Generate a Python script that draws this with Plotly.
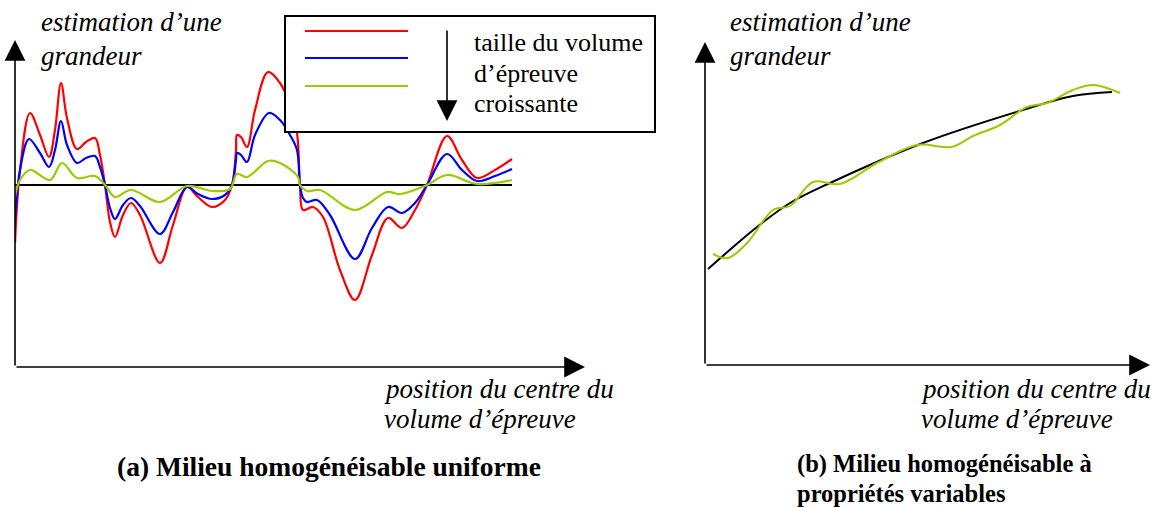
import plotly.graph_objects as go

W, H = 1156, 507

# ---------------- data ----------------
# panel (a): position along specimen, estimated quantity (0 = homogenised value)
red_x = [0, 5, 15, 25, 34, 40, 46, 52, 62, 71, 80, 85, 90, 95, 100, 108, 116, 125, 145, 158,
         172, 183, 197, 210, 217, 221, 222, 226, 232, 240, 253, 265, 275, 282, 285, 288, 298,
         308, 325, 340, 357, 373, 387, 400, 412, 432, 447, 462, 480, 497]
red_y = [-58, 15, 72, 50, 28, 55, 102, 67, 36, 43, 47, 30, 0, -37, -52, -30, -18, -30, -78, -40,
         -2, -12, -22, -15, 0, 35, 50, 48, 38, 75, 113, 102, 80, 52, 0, -25, -22,
         -32, -85, -115, -70, -33, -43, -25, 0, 49, 25, 7, 15, 26]

blue_x = [0, 5, 14, 25, 34, 40, 46, 52, 62, 71, 80, 85, 90, 95, 100, 108, 116, 125, 145, 158,
          172, 183, 197, 210, 217, 221, 222, 226, 232, 240, 254, 265, 275, 282, 285, 288, 292,
          302, 315, 340, 357, 373, 387, 400, 412, 432, 447, 462, 480, 497]
blue_y = [-37, 15, 46, 32, 18, 35, 64, 40, 22, 27, 29, 18, 0, -23, -34, -20, -13, -21, -49, -27,
          -2, -9, -14, -10, 0, 25, 32, 30, 23, 50, 72, 65, 50, 35, 0, -13, -17,
          -15, -30, -74, -43, -22, -28, -18, 0, 31, 15, 4, 9, 16]

green_x = [0, 5, 15, 35, 47, 62, 80, 90, 100, 116, 145, 172, 197, 215, 222, 232, 253, 265, 283,
           285, 292, 305, 340, 372, 385, 412, 432, 462, 497]
green_y = [-12, 5, 15, 5, 22, 7, 9, 0, -12, -5, -17, -1, -6, -4, 11, 8, 24, 22, 8,
           0, -6, -5, -25, -7, -9, 0, 10, 1, 5]

mean_a_x = [0, 497]
mean_a_y = [0, 0]

# panel (b): smooth trend and fluctuating estimate
trend_x = [3, 52, 85, 125, 218, 318, 368, 407]
trend_y = [96, 138, 162, 182, 222, 255, 269, 273]

est_x = [8, 23, 42, 68, 85, 108, 135, 172, 212, 247, 268, 295, 322, 342, 368, 388, 415]
est_y = [111, 107, 122, 155, 159, 183, 181, 202, 220, 218, 229, 240, 258, 262, 275, 280, 272]

legend_labels = ["taille du volume", "d\u2019\u00e9preuve", "croissante"]
y_label = ["estimation d\u2019une", "grandeur"]
x_label = ["position du centre du", "volume d\u2019\u00e9preuve"]
title_a = "(a) Milieu homog\u00e9n\u00e9isable uniforme"
title_b = ["(b) Milieu homog\u00e9n\u00e9isable \u00e0", "propri\u00e9t\u00e9s variables"]

RED, BLUE, GREEN = "#ff0000", "#0000ff", "#99cc00"
SERIF = "Liberation Serif"


def px(x):
    return x / W


def py(y):
    return 1 - y / H


fig = go.Figure()
lw = 2.2
fig.add_trace(go.Scatter(x=mean_a_x, y=mean_a_y, mode="lines", line=dict(color="black", width=2),
                         xaxis="x", yaxis="y", hoverinfo="skip"))
fig.add_trace(go.Scatter(x=red_x, y=red_y, mode="lines", line=dict(color=RED, width=lw, shape="spline", smoothing=1.0),
                         xaxis="x", yaxis="y"))
fig.add_trace(go.Scatter(x=blue_x, y=blue_y, mode="lines", line=dict(color=BLUE, width=lw, shape="spline", smoothing=1.0),
                         xaxis="x", yaxis="y"))
fig.add_trace(go.Scatter(x=green_x, y=green_y, mode="lines", line=dict(color=GREEN, width=lw, shape="spline", smoothing=1.0),
                         xaxis="x", yaxis="y"))

fig.add_trace(go.Scatter(x=trend_x, y=trend_y, mode="lines", line=dict(color="black", width=2, shape="spline", smoothing=1.0),
                         xaxis="x2", yaxis="y2"))
fig.add_trace(go.Scatter(x=est_x, y=est_y, mode="lines", line=dict(color=GREEN, width=2, shape="spline", smoothing=1.0),
                         xaxis="x2", yaxis="y2"))

hidden = dict(visible=False, fixedrange=True)
fig.update_layout(
    width=W, height=H, margin=dict(l=0, r=0, t=0, b=0),
    paper_bgcolor="white", plot_bgcolor="white", showlegend=False,
    xaxis=dict(domain=[px(15), px(585)], range=[0, 570], **hidden),
    yaxis=dict(domain=[py(367), py(40)], range=[-182, 145], **hidden),
    xaxis2=dict(domain=[px(705), px(1150)], range=[0, 445], anchor="y2", **hidden),
    yaxis2=dict(domain=[py(365), py(42)], range=[0, 323], anchor="x2", **hidden),
)

shapes = []
annotations = []


def axis_arrow(xref, yref, x, y, ax, ay):
    annotations.append(dict(xref=xref, yref=yref, axref=xref, ayref=yref, x=x, y=y, ax=ax, ay=ay,
                            text="", showarrow=True, arrowhead=2, arrowsize=2.6, arrowwidth=1.6,
                            arrowcolor="black", standoff=0))


# panel a axes
axis_arrow("x", "y", 0, 145, 0, -182)
axis_arrow("x", "y", 570, -182, 0, -182)
# panel b axes
axis_arrow("x2", "y2", 0, 323, 0, 0)
axis_arrow("x2", "y2", 445, 0, 0, 0)

# legend box
shapes.append(dict(type="rect", xref="paper", yref="paper", x0=px(285), x1=px(655), y0=py(132), y1=py(16),
                   line=dict(color="black", width=2), fillcolor="white", layer="above"))
for yy, c in [(31, RED), (58, BLUE), (86, GREEN)]:
    shapes.append(dict(type="line", xref="paper", yref="paper", x0=px(305), x1=px(408), y0=py(yy), y1=py(yy),
                       line=dict(color=c, width=2), layer="above"))
annotations.append(dict(xref="paper", yref="paper", x=px(447), y=py(121), ax=0, ay=-92, text="",
                        showarrow=True, arrowhead=2, arrowsize=2.6, arrowwidth=1.6, arrowcolor="black", standoff=0))
for i, t in enumerate(legend_labels):
    annotations.append(dict(xref="paper", yref="paper", x=px(472), y=py(43 + 30.5 * i), text=t, showarrow=False,
                            xanchor="left", yanchor="middle", font=dict(family=SERIF, size=26, color="black")))


def text(x, y, t, size=22, style="normal", weight="normal"):
    annotations.append(dict(xref="paper", yref="paper", x=px(x), y=py(y), text=t, showarrow=False,
                            xanchor="left", yanchor="middle",
                            font=dict(family=SERIF, size=size, color="black", style=style, weight=weight)))


# panel a texts
text(39, 22, y_label[0], size=27, style="italic")
text(39, 56, y_label[1], size=27, style="italic")
text(382, 389, x_label[0], size=27, style="italic")
text(382, 419, x_label[1], size=27, style="italic")
text(115, 466, title_a, size=27.5, weight="bold")
# panel b texts
text(728, 22, y_label[0], size=27, style="italic")
text(728, 56, y_label[1], size=27, style="italic")
text(919, 389, x_label[0], size=27, style="italic")
text(919, 419, x_label[1], size=27, style="italic")
text(795, 464, title_b[0], size=24.5, weight="bold")
text(795, 493, title_b[1], size=24.5, weight="bold")

fig.update_layout(shapes=shapes, annotations=annotations)
fig.write_html("out.html", config={"displayModeBar": False},
               post_script="document.body.style.margin='0';document.body.style.overflow='hidden';")
